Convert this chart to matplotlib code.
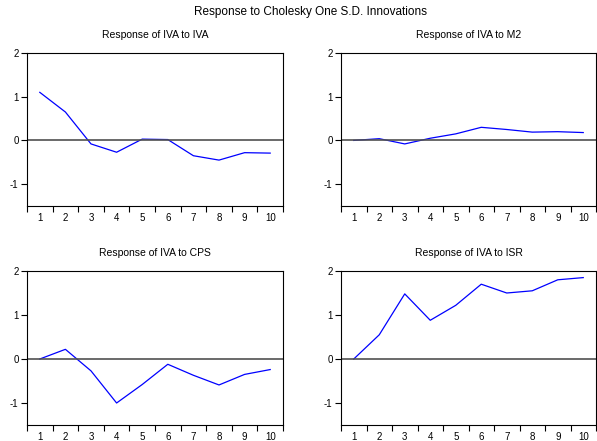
import matplotlib.pyplot as plt
import numpy as np

plt.rcParams['font.family'] = ['Liberation Sans', 'DejaVu Sans']
plt.rcParams['axes.unicode_minus'] = False

periods = [1, 2, 3, 4, 5, 6, 7, 8, 9, 10]
titles = ["Response of IVA to IVA", "Response of IVA to M2",
          "Response of IVA to CPS", "Response of IVA to ISR"]
iva_iva = [1.10, 0.65, -0.08, -0.27, 0.03, 0.02, -0.35, -0.45, -0.28, -0.29]
iva_m2 = [0.00, 0.04, -0.08, 0.05, 0.15, 0.30, 0.25, 0.19, 0.20, 0.18]
iva_cps = [0.00, 0.22, -0.27, -1.00, -0.58, -0.12, -0.37, -0.59, -0.35, -0.24]
iva_isr = [0.00, 0.55, 1.48, 0.88, 1.22, 1.70, 1.50, 1.55, 1.80, 1.85]
series = [iva_iva, iva_m2, iva_cps, iva_isr]

W, H = 597, 441
fig = plt.figure(figsize=(W / 100, H / 100), dpi=100)
fig.text(311 / W, 1 - 12 / H, "Response to Cholesky One S.D. Innovations",
         ha='center', va='center', fontsize=8.5)

# (left, top, right, bottom) in pixels
boxes = [(27, 53, 283, 206), (341, 53, 596, 206),
         (27, 271, 283, 425), (341, 271, 596, 425)]

for (l, t, r, b), title, y in zip(boxes, titles, series):
    ax = fig.add_axes([l / W, 1 - b / H, (r - l) / W, (b - t) / H])
    ax.plot(periods, y, color='#0000ff', lw=0.9)
    ax.axhline(0, color='#505050', lw=1.2)
    ax.set_xlim(0.5, 10.5)
    ax.set_ylim(-1.5, 2)
    ax.set_yticks([-1, 0, 1, 2])
    ax.set_xticks(periods)
    ax.set_xticks(np.arange(0.5, 11, 1), minor=True)
    ax.tick_params(axis='x', which='major', length=0, labelsize=7, pad=5)
    ax.tick_params(axis='x', which='minor', length=4, width=0.8, direction='out')
    ax.tick_params(axis='y', length=4, width=0.8, labelsize=7, pad=2)
    for s in ax.spines.values():
        s.set_linewidth(0.8)
    fig.text((l + r) / 2 / W, 1 - (t - 18) / H, title,
             ha='center', va='center', fontsize=7.5)

plt.savefig('out.png', dpi=100)
plt.close()
